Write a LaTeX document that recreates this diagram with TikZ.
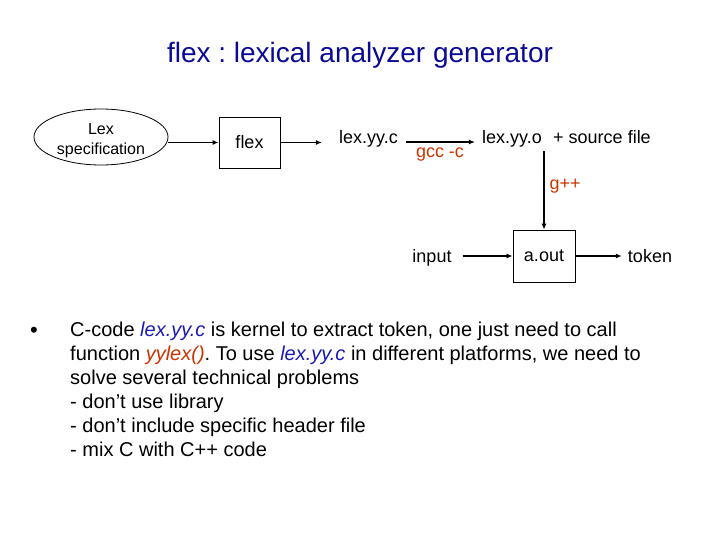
\documentclass[tikz,border=0pt]{standalone}
\usepackage{fontspec}
\setmainfont{Liberation Sans}
\usetikzlibrary{arrows.meta,positioning,shapes.geometric}
\definecolor{ttl}{HTML}{0A0A96}
\definecolor{cmd}{HTML}{CC3300}
\definecolor{fname}{HTML}{1A1AB4}
\frenchspacing
\tikzset{
  txt/.style={inner sep=3pt,anchor=base,font=\fontsize{18}{21}\selectfont},
  proc/.style={draw,line width=0.8pt,minimum width=61pt,minimum height=51pt,inner sep=0pt,font=\fontsize{18}{21}\selectfont},
  flow/.style={line width=1.2pt,-{Latex[length=6pt,width=5pt]}},
  cmdlbl/.style={cmd,inner sep=1pt,font=\fontsize{18}{21}\selectfont}
}

\begin{document}
\begin{tikzpicture}[x=1pt,y=-1pt]
  \useasboundingbox (0,0) rectangle (720,540);
  % title
  \node[ttl,font=\fontsize{28}{32}\selectfont] (title) at (360,55) {flex : lexical analyzer generator};

  % lex -> C source
  \node[draw,ellipse,line width=0.8pt,minimum width=134pt,minimum height=56pt,inner sep=0pt] (spec) at (101,137) {};
  \node[align=center,inner sep=0pt,font=\fontsize{16}{20}\selectfont] (spectxt) at (101,141) {Lex\\specification};
  \node[proc] (flex) at (249.5,142.5) {flex};
  \node[txt] (lexc) at (368.5,144) {lex.yy.c};
  \node[txt] (lexo) at (512,144) {lex.yy.o};
  \node[txt] (src) at (602,144) {+ source file};

  \draw[flow] (spec.east |- flex) -- (flex.west);
  \draw[flow,shorten >=14pt] (flex.east) -- (flex.east -| lexc.west);
  \draw[flow,shorten <=5pt,shorten >=4pt] (lexc.east |- 0,142) -- (lexo.west |- 0,142)
    node[cmdlbl,midway,below=4pt] (gcc) {gcc -c};

  % link and run
  \node[proc,minimum width=62pt,minimum height=52pt] (aout) at (544,256) {a.out};
  \node[txt] (input) at (432,262) {input};
  \node[txt] (token) at (650,262) {token};
  \coordinate (tap) at (aout.north |- lexo.south);

  \draw[flow] (tap) -- (aout.north) node[cmdlbl,pos=0.45,right=4pt] (gpp) {g++};
  \draw[flow,shorten <=8pt] (input.east |- aout) -- (aout.west);
  \draw[flow,shorten >=3pt] (aout.east) -- (token.west |- aout);

  % notes
  \node[font=\fontsize{22}{24}\selectfont] (dot) at (34,332) {\textbullet};
  \node[anchor=north west,inner sep=0pt,align=left,font=\fontsize{20}{24}\selectfont] (notes) at (70,322)
    {C-code \textcolor{fname}{\itshape lex.yy.c} is kernel to extract token, one just need to call\\
     function \textcolor{cmd}{\itshape yylex()}. To use \textcolor{fname}{\itshape lex.yy.c} in different platforms, we need to\\
     solve several technical problems\\
     - don’t use library\\
     - don’t include specific header file\\
     - mix C with C++ code};
\end{tikzpicture}
\end{document}
